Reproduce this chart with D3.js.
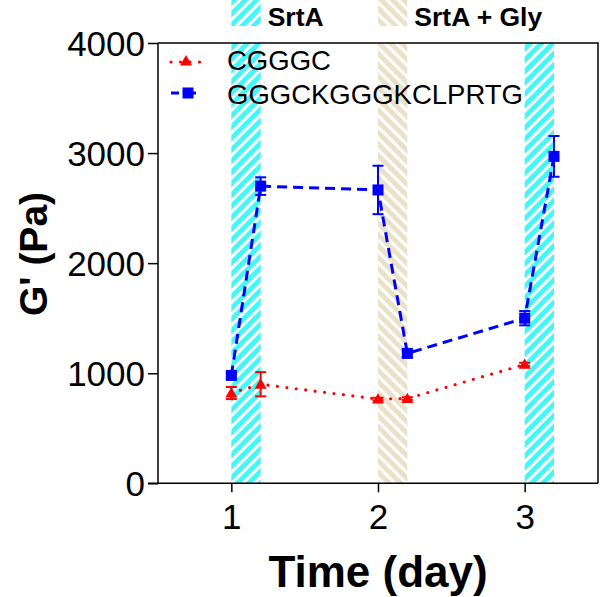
<!DOCTYPE html>
<html><head><meta charset="utf-8">
<script src="https://cdn.jsdelivr.net/npm/d3@7"></script>
<style>body{margin:0;background:#fff} svg{display:block}</style>
</head><body><svg id="c" width="600" height="597"></svg>
<script>
// ---- data ----
const seriesNames = ["CGGGC", "GGGCKGGGKCLPRTG"];
const redX = [1, 1.2, 2, 2.2, 3];
const redY = [820, 900, 765, 770, 1080];
const redErr = [55, 110, 12, 12, 15];
const blueX = [1, 1.2, 2, 2.2, 3, 3.2];
const blueY = [980, 2700, 2665, 1180, 1500, 2970];
const blueErr = [25, 80, 220, 35, 65, 185];
const bandStart = [1, 2, 3];
const bandEnd = [1.2, 2.2, 3.2];
const bandKind = ["srta", "gly", "srta"];
const topLabels = ["SrtA", "SrtA + Gly"];
const topLabelBand = [0, 1];
const xTicks = [1, 2, 3];
const yTicks = [0, 1000, 2000, 3000, 4000];

const FONT = "'Liberation Sans', Arial, Helvetica, sans-serif";
const svg = d3.select("#c");
const x = d3.scaleLinear().domain([0.5, 3.5]).range([158, 598]);
const y = d3.scaleLinear().domain([0, 4000]).range([483.3, 43]);

const defs = svg.append("defs");
function hatch(id, bg, angle) {
  const p = defs.append("pattern").attr("id", id).attr("patternUnits", "userSpaceOnUse")
    .attr("width", 8).attr("height", 8).attr("patternTransform", `rotate(${angle})`);
  p.append("rect").attr("width", 8).attr("height", 8).attr("fill", bg);
  p.append("rect").attr("x", 0).attr("width", 3.1).attr("height", 8).attr("fill", "#fff");
}
hatch("hSrtA", "#44F7F7", 45);
hatch("hGly", "#E9E1C8", -45);
const fillFor = k => k === "srta" ? "url(#hSrtA)" : "url(#hGly)";

// bands in plot
svg.append("g").selectAll("rect").data(bandStart).join("rect")
  .attr("x", (d) => x(d)).attr("width", (d, i) => x(bandEnd[i]) - x(d))
  .attr("y", y(4000)).attr("height", y(0) - y(4000))
  .attr("fill", (d, i) => fillFor(bandKind[i]));

// top legend patches
const tl = svg.append("g");
topLabels.forEach((t, j) => {
  const i = topLabelBand[j];
  tl.append("rect").attr("x", x(bandStart[i])).attr("width", x(bandEnd[i]) - x(bandStart[i]))
    .attr("y", 0).attr("height", 26).attr("fill", fillFor(bandKind[i]));
  tl.append("text").attr("x", x(bandEnd[i]) + 7).attr("y", 26)
    .attr("font-family", FONT).attr("font-weight", "bold").attr("font-size", 26.5)
    .attr("fill", "#000").text(t);
});

// lines
const line = d3.line().x(d => x(d[0])).y(d => y(d[1]));
const redPts = redX.map((d, i) => [d, redY[i], redErr[i]]);
const bluePts = blueX.map((d, i) => [d, blueY[i], blueErr[i]]);
svg.append("path").attr("d", line(redPts)).attr("fill", "none").attr("stroke", "#FF0000")
  .attr("stroke-width", 3.2).attr("stroke-linecap", "round").attr("stroke-dasharray", "0,9.5");
svg.append("path").attr("d", line(bluePts)).attr("fill", "none").attr("stroke", "#0000FF")
  .attr("stroke-width", 3).attr("stroke-dasharray", "10,6");

// error bars
function errBars(pts, color) {
  const g = svg.append("g").attr("stroke", color).attr("stroke-width", 2);
  pts.forEach(p => {
    const cx = x(p[0]), y1 = y(p[1] + p[2]), y2 = y(p[1] - p[2]);
    g.append("line").attr("x1", cx).attr("x2", cx).attr("y1", y1).attr("y2", y2);
    g.append("line").attr("x1", cx - 5.5).attr("x2", cx + 5.5).attr("y1", y1).attr("y2", y1);
    g.append("line").attr("x1", cx - 5.5).attr("x2", cx + 5.5).attr("y1", y2).attr("y2", y2);
  });
}
errBars(redPts, "#FF0000");
errBars(bluePts, "#0000FF");

// markers
const tri = d3.symbol().type(d3.symbolTriangle).size(62);
svg.append("g").selectAll("path").data(redPts).join("path")
  .attr("d", tri).attr("transform", d => `translate(${x(d[0])},${y(d[1]) + 1})`).attr("fill", "#FF0000");
svg.append("g").selectAll("rect").data(bluePts).join("rect")
  .attr("x", d => x(d[0]) - 5.5).attr("y", d => y(d[1]) - 5.5).attr("width", 11).attr("height", 11)
  .attr("fill", "#0000FF");

// frame
svg.append("path").attr("d", `M${x(0.5)},${y(4000)}H${x(3.5)}V${y(0)}`).attr("fill", "none")
  .attr("stroke", "#000").attr("stroke-width", 1.5);

// axes
const xa = svg.append("g").attr("transform", `translate(0,${y(0)})`)
  .call(d3.axisBottom(x).tickValues(xTicks).tickSize(9).tickPadding(12).tickFormat(d3.format("d")));
const ya = svg.append("g").attr("transform", `translate(${x(0.5)},0)`)
  .call(d3.axisLeft(y).tickValues(yTicks).tickSize(10).tickPadding(3).tickFormat(d3.format("d")));
[xa, ya].forEach(a => {
  a.select(".domain").attr("stroke", "#000").attr("stroke-width", 1.5);
  a.selectAll(".tick line").attr("stroke", "#000").attr("stroke-width", 1.5);
  a.selectAll(".tick text").attr("font-family", FONT).attr("font-size", 35).attr("fill", "#000");
});
ya.select(".domain").attr("d", `M-10,${y(0)}H0V${y(4000)}`);
xa.select(".domain").attr("d", `M${x(0.5)},0H${x(3.5)}`);
ya.selectAll(".tick text").attr("dy", "0.36em");

// axis titles
svg.append("text").attr("x", 378).attr("y", 587).attr("text-anchor", "middle")
  .attr("font-family", FONT).attr("font-weight", "bold").attr("font-size", 44).text("Time (day)");
svg.append("text").attr("transform", "translate(47,254) rotate(-90)").attr("text-anchor", "middle")
  .attr("font-family", FONT).attr("font-weight", "bold").attr("font-size", 39).text("G' (Pa)");

// legend
const lg = svg.append("g");
lg.append("line").attr("x1", 171).attr("x2", 202).attr("y1", 62).attr("y2", 62)
  .attr("stroke", "#FF0000").attr("stroke-width", 3.2).attr("stroke-linecap", "round").attr("stroke-dasharray", "0,9.5");
lg.append("path").attr("d", tri).attr("transform", "translate(186,62)").attr("fill", "#FF0000");
lg.append("line").attr("x1", 171).attr("x2", 205).attr("y1", 93).attr("y2", 93)
  .attr("stroke", "#0000FF").attr("stroke-width", 3).attr("stroke-dasharray", "8,9");
lg.append("rect").attr("x", 182.5).attr("y", 87.5).attr("width", 11).attr("height", 11).attr("fill", "#0000FF");
seriesNames.forEach((n, i) => {
  lg.append("text").attr("x", 227).attr("y", 70 + i * 34).attr("font-family", FONT)
    .attr("font-size", 27.5).attr("fill", "#000").text(n);
});
</script></body></html>
